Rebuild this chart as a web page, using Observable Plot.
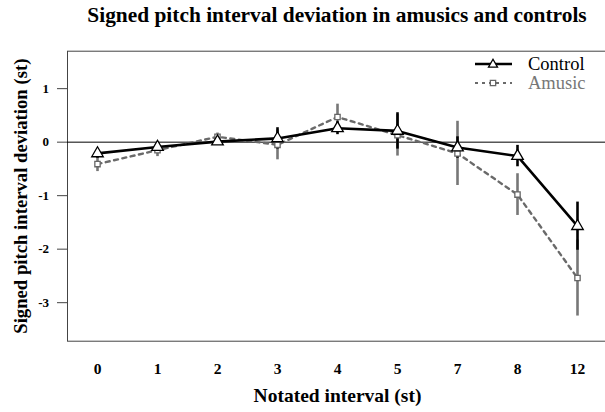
<!DOCTYPE html>
<html><head><meta charset="utf-8">
<script src="https://cdn.jsdelivr.net/npm/d3@7"></script>
<script src="https://cdn.jsdelivr.net/npm/@observablehq/plot@0.6"></script>
<style>
body{margin:0;overflow:hidden;background:#fff;font-family:"Liberation Serif","Times New Roman",serif;}
#wrap{position:relative;width:605px;height:412px;overflow:hidden;}
#title{position:absolute;left:67px;width:540px;top:0;height:36px;line-height:31.6px;text-align:center;font-weight:bold;font-size:21.4px;color:#000;font-family:"Liberation Serif",serif;}
#chart{position:absolute;left:0;top:36px;}
#chart svg{overflow:hidden;}
#chart g[aria-label="x-axis label"] text{font-size:19.5px;}
#chart g[aria-label="y-axis label"] text{font-size:18.7px;}
#chart g[aria-label="x-axis tick label"] text{font-size:15.5px;}
#chart g[aria-label="y-axis tick label"] text{font-size:13px;}
.leg{position:absolute;left:528px;font-size:18.5px;line-height:1;white-space:nowrap;font-family:"Liberation Serif","DejaVu Serif",serif;font-weight:400;}
#legsym{position:absolute;left:470px;top:50px;}
</style></head>
<body><div id="wrap">
<div id="title">Signed pitch interval deviation in amusics and controls</div>
<div id="chart"></div>
<svg id="legsym" width="50" height="40"></svg>
<div class="leg" style="top:55.2px;color:#000">Control</div>
<div class="leg" style="top:73.8px;color:#777">Amusic</div>
</div>
<script>
const intervals = ["0","1","2","3","4","5","7","8","12"];
const controlMean = [-0.21, -0.09, 0.01, 0.07, 0.26, 0.21, -0.10, -0.26, -1.57];
const controlErr  = [0.09, 0.05, 0.05, 0.20, 0.12, 0.34, 0.20, 0.20, 0.45];
const amusicMean  = [-0.41, -0.15, 0.10, -0.05, 0.47, 0.13, -0.21, -0.98, -2.54];
const amusicErr   = [0.14, 0.12, 0.07, 0.28, 0.24, 0.39, 0.60, 0.39, 0.71];
const yTicks = [-3, -2, -1, 0, 1];
const groups = ["Control", "Amusic"];

const rows = (means, errs, g) => intervals.map((k, i) => ({
  interval: k, group: g, mean: means[i], lo: means[i] - errs[i], hi: means[i] + errs[i]
}));
const control = rows(controlMean, controlErr, groups[0]);
const amusic = rows(amusicMean, amusicErr, groups[1]);

const chart = Plot.plot({
  width: 605,
  height: 376,
  marginLeft: 67,
  marginRight: -2,
  marginTop: 14.7,
  marginBottom: 71.3,
  style: {fontFamily: "Liberation Serif, Times New Roman, serif", fontSize: "13px", fontWeight: "bold", color: "#000", background: "#fff"},
  x: {type: "point", domain: intervals, padding: 0.5, axis: null},
  y: {domain: [-3.72, 1.70], axis: null},
  marks: [
    Plot.frame({stroke: "#444", strokeWidth: 1}),
    Plot.ruleY([0], {stroke: "#000", strokeWidth: 1}),
    Plot.axisX({tickSize: 0, tickPadding: 22, label: "Notated interval (st)", labelAnchor: "center", labelOffset: 61, labelArrow: "none"}),
    Plot.axisY({ticks: yTicks, tickSize: 10, tickPadding: 8.5, tickFormat: d => String(d), label: "Signed pitch interval deviation (st)", labelAnchor: "center", labelOffset: 54, labelArrow: "none", stroke: "#444"}),
    Plot.ruleX(amusic, {x: "interval", y1: "lo", y2: "hi", stroke: "#777", strokeWidth: 2.6}),
    Plot.line(amusic, {x: "interval", y: "mean", stroke: "#6a6a6a", strokeWidth: 2.4, strokeDasharray: "4,4.5"}),
    Plot.ruleX(control, {x: "interval", y1: "lo", y2: "hi", stroke: "#000", strokeWidth: 2.6}),
    Plot.line(control, {x: "interval", y: "mean", stroke: "#000", strokeWidth: 2.6}),
    Plot.dot(amusic, {x: "interval", y: "mean", symbol: "square", r: 3, fill: "#fff", stroke: "#666", strokeWidth: 1.3}),
    Plot.dot(control, {x: "interval", y: "mean", symbol: "triangle", r: 4.3, fill: "#fff", stroke: "#000", strokeWidth: 1.3})
  ]
});
document.getElementById("chart").appendChild(chart);

// legend symbols
const ls = d3.select("#legsym");
ls.append("line").attr("x1", 5).attr("x2", 42).attr("y1", 14).attr("y2", 14).attr("stroke", "#000").attr("stroke-width", 2.4);
ls.append("path").attr("d", d3.symbol(d3.symbolTriangle2, Math.PI * 4.3 * 4.3)()).attr("transform", "translate(23,14.5)").attr("fill", "#fff").attr("stroke", "#000").attr("stroke-width", 1.3);
ls.append("line").attr("x1", 5).attr("x2", 42).attr("y1", 33).attr("y2", 33).attr("stroke", "#6a6a6a").attr("stroke-width", 2.2).attr("stroke-dasharray", "3,4");
ls.append("path").attr("d", d3.symbol(d3.symbolSquare, Math.PI * 3 * 3)()).attr("transform", "translate(23,33)").attr("fill", "#fff").attr("stroke", "#666").attr("stroke-width", 1.3);
</script>
</body></html>
